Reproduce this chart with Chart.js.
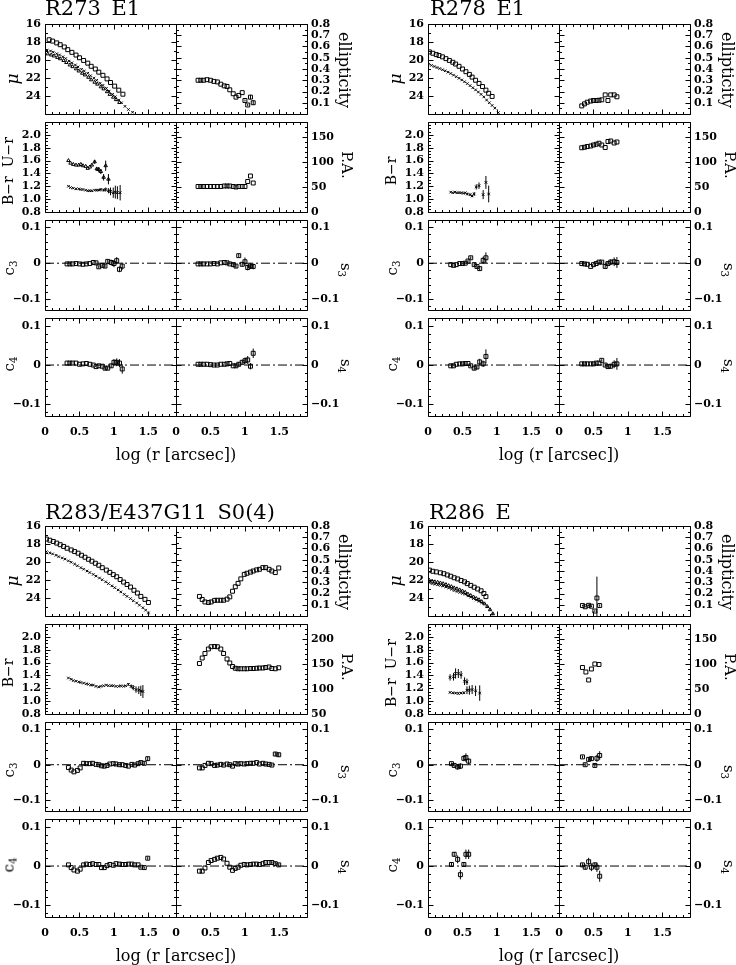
<!DOCTYPE html>
<html><head><meta charset="utf-8">
<script src="https://cdn.jsdelivr.net/npm/chart.js"></script>
<style>
html,body{margin:0;padding:0;background:#fff;}
#wrap{position:relative;width:736px;height:965px;overflow:hidden;background:#fff;font-family:"DejaVu Serif",serif;color:#000;}
#wrap canvas{position:absolute;}
.t{position:absolute;white-space:nowrap;line-height:1;color:#000;}
.sub{font-size:0.68em;position:relative;top:0.3em;}
</style></head>
<body><div id="wrap"></div>
<script>
// ---------- tick labels ----------
const X_TICKS = [0, 0.5, 1, 1.5];
const X_TICK_LABELS = ['0', '0.5', '1', '1.5'];
const MU_TICKS = [16, 18, 20, 22, 24];
const MU_LABELS = ['16', '18', '20', '22', '24'];
const ELL_TICKS = [0.1, 0.2, 0.3, 0.4, 0.5, 0.6, 0.7, 0.8];
const ELL_LABELS = ['0.1', '0.2', '0.3', '0.4', '0.5', '0.6', '0.7', '0.8'];
const COL_TICKS = [0.8, 1.0, 1.2, 1.4, 1.6, 1.8, 2.0];
const COL_LABELS = ['0.8', '1.0', '1.2', '1.4', '1.6', '1.8', '2.0'];
const PA_TICKS = [0, 50, 100, 150];
const PA_LABELS = ['0', '50', '100', '150'];
const PA2_TICKS = [50, 100, 150, 200];
const PA2_LABELS = ['50', '100', '150', '200'];
const C_TICKS = [-0.1, 0, 0.1];
const C_LABELS = ['\u22120.1', '0', '0.1'];

// ---------- R273 E1 ----------
const R273_MU_R_X = [0.06,0.11,0.17,0.22,0.28,0.33,0.39,0.45,0.50,0.56,0.62,0.67,0.73,0.78,0.84,0.90,0.95,1.01,1.07,1.13];
const R273_MU_R = [17.75,17.9,18.1,18.3,18.55,18.85,19.15,19.45,19.75,20.05,20.35,20.7,21.0,21.35,21.7,22.1,22.5,22.9,23.35,23.8];
const R273_MU_B_X = [0.03,0.08,0.12,0.17,0.21,0.26,0.30,0.35,0.39,0.44,0.48,0.53,0.57,0.62,0.66,0.71,0.75,0.80,0.84,0.89,0.93,0.98,1.02,1.07,1.11,1.16,1.21,1.27];
const R273_MU_B = [18.9,19.0,19.13,19.3,19.44,19.64,19.84,20.12,20.31,20.55,20.77,21.03,21.23,21.47,21.75,22.02,22.26,22.59,22.82,23.15,23.46,23.81,24.08,24.45,24.75,25.15,25.5,25.8];
const R273_MU_U_X = [0.04,0.09,0.13,0.18,0.22,0.27,0.31,0.36,0.40,0.45,0.49,0.54,0.58,0.63,0.67,0.72,0.76,0.81,0.85,0.90,0.94,0.99,1.03,1.08];
const R273_MU_U = [19.32,19.44,19.55,19.71,19.86,20.05,20.28,20.55,20.74,20.98,21.22,21.47,21.66,21.92,22.2,22.47,22.68,22.98,23.21,23.52,23.82,24.13,24.4,24.72];
const R273_ISO_X = [0.32,0.36,0.40,0.45,0.50,0.55,0.60,0.65,0.70,0.74,0.78,0.83,0.87,0.91,0.96,1.00,1.04,1.08,1.12];
const R273_ELL = [0.30,0.30,0.30,0.305,0.30,0.29,0.285,0.265,0.25,0.245,0.215,0.18,0.15,0.165,0.19,0.12,0.08,0.15,0.10];
const R273_ELL_ERR = [0,0,0,0,0,0,0,0,0,0,0,0,0,0,0,0.008,0.01,0.02,0.02];
const R273_PA = [51,51,51,51,51,51,51,51,52,52,52,51,50,51,51,51,61,72,58];
const R273_C3 = [-0.002,-0.002,-0.002,-0.001,-0.002,-0.003,-0.002,-0.001,0.002,0.001,-0.01,-0.006,-0.008,0.005,0.002,-0.001,0.007,-0.017,-0.008];
const R273_C3_ERR = [0,0,0,0,0,0,0,0,0,0,0.004,0.004,0.005,0.006,0.008,0.01,0.01,0.008,0.01];
const R273_S3 = [-0.002,-0.002,-0.002,-0.002,-0.002,-0.001,-0.002,0.001,0.002,0.001,-0.002,-0.004,-0.008,0.021,-0.003,0.004,-0.012,-0.008,-0.009];
const R273_S3_ERR = [0,0,0,0,0,0,0,0,0,0,0,0.004,0.005,0.005,0.006,0.012,0.008,0.008,0.008];
const R273_C4 = [0.005,0.005,0.005,0.005,0.002,0.003,0.004,0.002,0,-0.004,-0.002,-0.003,-0.008,-0.008,-0.002,0.007,0.007,0.005,-0.01];
const R273_C4_ERR = [0,0,0,0,0,0,0,0,0,0,0,0,0.004,0.004,0.005,0.008,0.01,0.01,0.012];
const R273_S4 = [0.002,0.002,0.002,0.002,0.001,0,0,0.002,0.002,0.003,0.004,-0.002,-0.002,0.002,0.007,0.011,0.013,-0.003,0.03];
const R273_S4_ERR = [0,0,0,0,0,0,0,0,0,0,0,0,0.004,0.005,0.006,0.008,0.01,0.008,0.012];
const R273_COL_X = [0.34,0.37,0.41,0.45,0.49,0.52,0.55,0.59,0.62,0.65,0.68,0.72,0.75,0.78,0.81,0.85,0.88,0.92,0.95,0.99,1.02,1.05,1.09];
const R273_UR = [1.60,1.56,1.54,1.53,1.53,1.54,1.52,1.51,1.48,1.50,1.53,1.58,1.47,1.46,1.43,1.34,1.52,1.31];
const R273_UR_ERR = [0,0,0,0,0,0,0,0,0,0,0.01,0.03,0.03,0.04,0.04,0.05,0.08,0.08];
const R273_BR = [1.20,1.18,1.17,1.16,1.16,1.15,1.15,1.14,1.13,1.13,1.13,1.14,1.14,1.14,1.15,1.14,1.15,1.13,1.12,1.10,1.11,1.10,1.10];
const R273_BR_ERR = [0,0,0,0,0,0,0,0,0,0,0,0,0.01,0.01,0.02,0.02,0.03,0.04,0.06,0.08,0.1,0.1,0.12];

// ---------- R278 E1 ----------
const R278_MU_R_X = [0.02,0.07,0.12,0.16,0.21,0.26,0.31,0.36,0.40,0.45,0.50,0.55,0.60,0.64,0.69,0.74,0.79,0.84,0.88,0.93];
const R278_MU_R = [19.1,19.25,19.4,19.5,19.65,19.85,20.05,20.25,20.45,20.7,21.0,21.3,21.6,21.9,22.25,22.6,22.95,23.35,23.7,24.05];
const R278_MU_B_X = [0.01,0.05,0.09,0.13,0.17,0.21,0.25,0.29,0.33,0.37,0.41,0.45,0.49,0.53,0.57,0.61,0.65,0.69,0.73,0.77,0.81,0.85,0.89,0.93,0.97,1.02];
const R278_MU_B = [20.46,20.6,20.72,20.84,20.95,21.08,21.2,21.35,21.5,21.68,21.85,22.03,22.22,22.42,22.62,22.85,23.08,23.32,23.56,23.82,24.1,24.45,24.75,25.05,25.35,25.85];
const R278_ISO_X = [0.33,0.37,0.41,0.46,0.50,0.54,0.58,0.62,0.67,0.71,0.75,0.80,0.84];
const R278_ELL = [0.072,0.09,0.105,0.115,0.12,0.12,0.122,0.126,0.17,0.12,0.17,0.17,0.153];
const R278_PA = [128.5,129.5,131,132,134,135.5,137.5,134,129,141,142,138,140];
const R278_C3 = [-0.004,-0.006,-0.004,-0.001,-0.001,0.0,0.006,0.015,-0.004,-0.009,-0.015,0.008,0.015];
const R278_C3_ERR = [0,0,0,0,0,0,0.003,0.004,0.004,0.005,0.006,0.01,0.015];
const R278_S3 = [-0.001,-0.002,-0.003,-0.009,-0.004,-0.001,0.003,0.003,-0.009,-0.001,0.003,0.004,0.002];
const R278_S3_ERR = [0,0,0,0,0,0,0,0.003,0.004,0.005,0.008,0.012,0.015];
const R278_C4 = [-0.002,-0.002,0.002,0.003,0.003,0.004,0.004,-0.002,-0.008,-0.005,0.008,0.003,0.022];
const R278_C4_ERR = [0,0,0,0,0,0,0,0.003,0.005,0.005,0.008,0.008,0.018];
const R278_S4 = [0.003,0.003,0.003,0.003,0.003,0.005,0.005,0.012,0.0,-0.004,-0.003,0.002,0.003];
const R278_S4_ERR = [0,0,0,0,0,0,0,0.003,0.004,0.005,0.006,0.01,0.015];
const R278_COL_X = [0.33,0.36,0.39,0.42,0.45,0.48,0.51,0.54,0.57,0.61,0.64,0.67,0.70,0.74,0.80,0.84,0.88];
const R278_BR = [1.11,1.10,1.11,1.10,1.10,1.10,1.09,1.10,1.08,1.07,1.05,1.08,1.19,1.21,1.07,1.26,1.08];
const R278_BR_ERR = [0,0,0,0,0,0,0,0.01,0.02,0.02,0.02,0.03,0.04,0.05,0.07,0.1,0.13];

// ---------- R283/E437G11 S0(4) ----------
const R283_MU_R_X = [0.02,0.07,0.12,0.17,0.22,0.27,0.32,0.38,0.43,0.48,0.53,0.58,0.63,0.68,0.73,0.78,0.83,0.89,0.94,0.99,1.04,1.09,1.14,1.19,1.24,1.29,1.34,1.39,1.45,1.50];
const R283_MU_R = [17.45,17.58,17.72,17.9,18.08,18.27,18.47,18.66,18.84,19.02,19.25,19.47,19.7,19.91,20.14,20.36,20.63,20.9,21.15,21.4,21.64,21.95,22.23,22.5,22.78,23.14,23.45,23.82,24.15,24.5];
const R283_MU_B_X = [0.02,0.07,0.11,0.16,0.20,0.25,0.29,0.34,0.38,0.43,0.47,0.52,0.56,0.61,0.65,0.70,0.74,0.79,0.83,0.88,0.92,0.97,1.01,1.06,1.10,1.15,1.19,1.24,1.28,1.33,1.37,1.42,1.46,1.50];
const R283_MU_B = [18.86,18.98,19.1,19.25,19.4,19.55,19.68,19.87,20.03,20.23,20.42,20.63,20.8,21.0,21.17,21.38,21.57,21.78,21.97,22.2,22.4,22.65,22.85,23.1,23.32,23.6,23.82,24.07,24.3,24.55,24.8,25.08,25.35,25.66];
const R283_ISO_X = [0.34,0.38,0.42,0.47,0.51,0.56,0.60,0.65,0.69,0.74,0.78,0.82,0.86,0.90,0.94,0.99,1.03,1.08,1.12,1.17,1.21,1.26,1.30,1.35,1.39,1.44,1.49];
const R283_ELL = [0.174,0.147,0.125,0.12,0.125,0.139,0.14,0.14,0.14,0.15,0.17,0.22,0.26,0.29,0.33,0.37,0.38,0.39,0.40,0.41,0.415,0.43,0.43,0.415,0.40,0.386,0.427];
const R283_PA = [151,162,171,180,184.5,185,184.5,180,171,160,152,145,141.5,140.5,140.5,140.5,140.5,141,141,141.5,142,142,143,144,141,140.5,142.5];
const R283_C3 = [-0.008,-0.015,-0.02,-0.016,-0.009,0.004,0.003,0.003,0.004,0.001,0.0,-0.003,-0.004,-0.002,0.002,0.003,0.002,0.0,0.0,-0.002,-0.004,0.001,-0.001,0.003,0.006,0.004,0.017];
const R283_C3_ERR = [0,0,0,0,0,0,0,0,0,0,0,0,0,0,0,0,0,0,0,0,0,0,0,0.004,0.004,0.005,0.006];
const R283_S3 = [-0.009,-0.009,-0.002,0.004,0.003,-0.002,-0.001,0.001,-0.001,0.002,0.0,-0.004,0.003,0.002,0.003,0.002,0.003,0.004,0.004,0.006,0.002,0.004,0.002,0.001,-0.001,0.03,0.028];
const R283_S3_ERR = [0,0,0,0,0,0,0,0,0,0,0,0,0,0,0,0,0,0,0,0,0,0,0,0,0.003,0.006,0.006];
const R283_C4 = [0.003,-0.004,-0.01,-0.013,-0.008,0.003,0.005,0.004,0.006,0.004,0.004,-0.004,-0.004,0.001,0.004,0.002,0.006,0.005,0.004,0.004,0.005,0.005,0.003,0.003,-0.003,-0.004,0.02];
const R283_C4_ERR = [0,0,0,0,0,0,0,0,0,0,0,0,0,0,0,0,0,0,0,0,0,0,0,0,0.003,0.003,0.004];
const R283_S4 = [-0.013,-0.013,-0.005,0.009,0.014,0.017,0.02,0.022,0.018,0.007,-0.003,-0.011,-0.006,-0.003,0.002,0.004,0.003,0.004,0.005,0.005,0.004,0.006,0.009,0.009,0.009,0.006,0.003];
const R283_S4_ERR = [0,0,0,0,0,0,0,0,0,0,0,0,0,0,0,0,0,0,0,0,0,0,0,0,0.003,0.005,0.004];
const R283_COL_X = [0.34,0.38,0.41,0.45,0.49,0.52,0.56,0.60,0.63,0.67,0.70,0.74,0.78,0.81,0.85,0.89,0.92,0.96,0.99,1.03,1.07,1.10,1.14,1.17,1.21,1.25,1.28,1.32,1.36,1.39,1.42];
const R283_BR = [1.36,1.34,1.32,1.31,1.30,1.29,1.28,1.27,1.26,1.25,1.25,1.23,1.22,1.23,1.24,1.25,1.24,1.24,1.24,1.23,1.23,1.24,1.23,1.24,1.26,1.23,1.21,1.18,1.17,1.16,1.15];
const R283_BR_ERR = [0,0,0,0,0,0,0,0,0,0,0,0,0,0,0,0,0,0,0,0,0,0,0,0,0.02,0.03,0.04,0.05,0.06,0.08,0.1];

// ---------- R286 E ----------
const R286_MU_R_X = [0.02,0.07,0.12,0.18,0.23,0.28,0.33,0.38,0.43,0.48,0.53,0.57,0.62,0.67,0.72,0.77,0.81,0.84];
const R286_MU_R = [20.9,21.03,21.1,21.2,21.3,21.44,21.58,21.75,21.88,22.05,22.2,22.4,22.6,22.8,23.0,23.2,23.5,23.85];
const R286_MU_B_X = [0.02,0.06,0.10,0.14,0.18,0.22,0.26,0.30,0.34,0.38,0.42,0.46,0.50,0.54,0.58,0.62,0.66,0.70,0.74,0.78,0.82,0.86,0.90,0.94];
const R286_MU_B = [22.03,22.13,22.2,22.26,22.33,22.41,22.51,22.63,22.74,22.88,22.98,23.1,23.23,23.37,23.57,23.73,23.89,24.05,24.2,24.4,24.65,24.95,25.3,25.75];
const R286_MU_B_ERR = [0,0,0,0,0,0,0,0,0,0,0,0,0,0,0,0,0,0,0,0,0.05,0.08,0.1,0.15];
const R286_MU_U_X = [0.02,0.06,0.10,0.14,0.18,0.22,0.26,0.30,0.34,0.38,0.42,0.46,0.50,0.54,0.58,0.62,0.66,0.70,0.74,0.78];
const R286_MU_U = [22.3,22.4,22.47,22.53,22.6,22.68,22.78,22.9,23.02,23.17,23.27,23.38,23.48,23.58,23.76,23.9,24.06,24.22,24.36,24.52];
const R286_ISO_X = [0.34,0.38,0.43,0.47,0.52,0.55,0.59];
const R286_ELL = [0.093,0.082,0.095,0.087,0.044,0.16,0.093];
const R286_ELL_ERR = [0.006,0.006,0.008,0.008,0.008,0.19,0.01];
const R286_PA_X = [0.34,0.39,0.43,0.47,0.52,0.58];
const R286_PA = [93,84,68,90,100,99];
const R286_C3 = [0.003,-0.002,-0.006,-0.004,0.018,0.02,0.01];
const R286_C3_ERR = [0.003,0.004,0.008,0.008,0.008,0.012,0.008];
const R286_S3 = [0.022,0.0,0.015,0.017,-0.002,0.018,0.026];
const R286_S3_ERR = [0.004,0.004,0.006,0.006,0.004,0.01,0.012];
const R286_C4 = [0.004,0.03,0.017,-0.022,0.004,0.03,0.03];
const R286_C4_ERR = [0.004,0.006,0.01,0.012,0.005,0.012,0.012];
const R286_S4 = [0.003,-0.003,0.011,-0.003,0.003,-0.003,-0.026];
const R286_S4_ERR = [0.004,0.006,0.01,0.01,0.006,0.012,0.014];
const R286_UR_X = [0.32,0.37,0.40,0.44,0.48,0.53,0.565];
const R286_UR = [1.37,1.38,1.43,1.43,1.41,1.31,1.30];
const R286_UR_ERR = [0.05,0.06,0.08,0.07,0.06,0.06,0.05];
const R286_BR_X = [0.32,0.36,0.40,0.44,0.48,0.52,0.565,0.60,0.64,0.69,0.75];
const R286_BR = [1.135,1.13,1.125,1.12,1.125,1.13,1.17,1.17,1.18,1.16,1.125];
const R286_BR_ERR = [0.01,0.01,0.01,0.015,0.015,0.02,0.06,0.07,0.07,0.08,0.12];

// ---------- rendering ----------
const FONT_FAMILY = '"DejaVu Serif", serif';
Chart.defaults.font.family = FONT_FAMILY;
Chart.defaults.color = '#000';
const TICK_FONT = {family: FONT_FAMILY, size: 11, weight: 'bold'};
const wrap = document.getElementById('wrap');

function tickLoop(min, max, minor, major, fn) {
  const n0 = Math.ceil(min / minor - 1e-6), n1 = Math.floor(max / minor + 1e-6);
  const r = Math.round(major / minor);
  for (let n = n0; n <= n1; n++) fn(n * minor, n % r === 0);
}

const framePlugin = {
  id: 'frame',
  afterDatasetsDraw(chart, args, o) {
    const {ctx, chartArea: a, scales: {x, y}} = chart;
    const l = Math.round(a.left) + 0.5, r = Math.round(a.right) + 0.5;
    const t = Math.round(a.top) + 0.5, b = Math.round(a.bottom) + 0.5;
    ctx.save();
    ctx.strokeStyle = '#000'; ctx.lineWidth = 1; ctx.setLineDash([]);
    ctx.beginPath();
    ctx.rect(l, t, r - l, b - t);
    tickLoop(o.xMin, o.xMax, o.xMinor, o.xMajor, (v, maj) => {
      const px = Math.round(x.getPixelForValue(v)) + 0.5, L = maj ? o.major : o.minor;
      ctx.moveTo(px, t); ctx.lineTo(px, t + L);
      ctx.moveTo(px, b); ctx.lineTo(px, b - L);
    });
    tickLoop(o.yMin, o.yMax, o.yMinor, o.yMajor, (v, maj) => {
      const py = Math.round(y.getPixelForValue(v)) + 0.5, L = maj ? o.major : o.minor;
      ctx.moveTo(l, py); ctx.lineTo(l + L, py);
      ctx.moveTo(r, py); ctx.lineTo(r - L, py);
    });
    ctx.stroke();
    ctx.restore();
  }
};

const errPlugin = {
  id: 'errbars',
  afterDatasetsDraw(chart) {
    const {ctx, chartArea: a, scales: {x, y}} = chart;
    ctx.save();
    ctx.beginPath(); ctx.rect(a.left, a.top, a.right - a.left, a.bottom - a.top); ctx.clip();
    ctx.beginPath();
    chart.data.datasets.forEach(ds => {
      if (!ds.errs) return;
      ds.data.forEach((p, i) => {
        const e = ds.errs[i];
        if (!e) return;
        const px = x.getPixelForValue(p.x);
        ctx.moveTo(px, y.getPixelForValue(p.y - e));
        ctx.lineTo(px, y.getPixelForValue(p.y + e));
      });
    });
    ctx.strokeStyle = '#000'; ctx.lineWidth = 1; ctx.stroke();
    ctx.restore();
  }
};

function pts(xs, ys) { return ys.map((v, i) => ({x: xs[i], y: v})); }
function sq(xs, ys, errs) {
  return {data: pts(xs, ys), errs, pointStyle: 'rect', pointRadius: 2.8, borderWidth: 1,
          borderColor: '#000', backgroundColor: 'rgba(0,0,0,0)'};
}
function cr(xs, ys, errs) {
  return {data: pts(xs, ys), errs, pointStyle: 'crossRot', pointRadius: 1.8, borderWidth: 1,
          borderColor: '#000', backgroundColor: 'rgba(0,0,0,0)'};
}
function tri(xs, ys, errs) {
  return {data: pts(xs, ys), errs, pointStyle: 'triangle', pointRadius: 2, borderWidth: 1,
          borderColor: '#000', backgroundColor: 'rgba(0,0,0,0)'};
}

const Y_MU = {min: 16, max: 26, reverse: true, ticks: MU_TICKS, labels: MU_LABELS, major: 2, minor: 1};
const Y_ELL = {min: 0, max: 0.8, ticks: ELL_TICKS, labels: ELL_LABELS, major: 0.1, minor: 0.05};
const Y_COL = {min: 0.8, max: 2.2, ticks: COL_TICKS, labels: COL_LABELS, major: 0.2, minor: 0.05};
const Y_PA = {min: 0, max: 180, ticks: PA_TICKS, labels: PA_LABELS, major: 50, minor: 10};
const Y_PA2 = {min: 50, max: 230, ticks: PA2_TICKS, labels: PA2_LABELS, major: 50, minor: 10};
const Y_C = {min: -0.13, max: 0.12, ticks: C_TICKS, labels: C_LABELS, major: 0.1, minor: 0.02};

function panel(x0, y0, w, h, side, bottom, yc, datasets, zero) {
  const mL = side === 'left' ? 50 : 8, mR = side === 'right' ? 50 : 8, mT = 8, mB = bottom ? 30 : 8;
  const W = w + mL + mR, H = h + mT + mB;
  const cv = document.createElement('canvas');
  cv.width = W; cv.height = H;
  cv.style.left = (x0 - mL) + 'px'; cv.style.top = (y0 - mT) + 'px';
  cv.style.width = W + 'px'; cv.style.height = H + 'px';
  wrap.appendChild(cv);
  const ds = datasets.slice();
  if (zero) ds.unshift({type: 'line', data: [{x: 0, y: 0}, {x: 1.9, y: 0}], borderColor: '#000',
    borderWidth: 1, borderDash: [9, 3, 2, 3], pointRadius: 0, fill: false});
  new Chart(cv, {
    type: 'scatter',
    data: {datasets: ds},
    options: {
      responsive: false, animation: false, devicePixelRatio: 1, events: [],
      layout: {autoPadding: false, padding: {left: side === 'left' ? 0 : mL, right: side === 'right' ? 0 : mR, top: mT, bottom: bottom ? 0 : mB}},
      plugins: {
        legend: {display: false}, tooltip: {enabled: false},
        frame: {xMin: 0, xMax: 1.9, xMajor: 0.5, xMinor: 0.1, yMin: yc.min, yMax: yc.max,
                yMajor: yc.major, yMinor: yc.minor, major: 5, minor: 2.5}
      },
      scales: {
        x: {type: 'linear', min: 0, max: 1.9, display: bottom,
            grid: {display: false, drawTicks: false}, border: {display: false},
            ticks: {autoSkip: false, maxRotation: 0, padding: 10, font: TICK_FONT, color: '#000',
                    callback: (v, i) => X_TICK_LABELS[i]},
            afterBuildTicks: a => { a.ticks = X_TICKS.map(v => ({value: v})); },
            afterFit: a => { a.height = mB; a.paddingLeft = 0; a.paddingRight = 0; }},
        y: {type: 'linear', position: side, min: yc.min, max: yc.max, reverse: !!yc.reverse,
            grid: {display: false, drawTicks: false}, border: {display: false},
            ticks: {autoSkip: false, padding: 4, font: TICK_FONT, color: '#000',
                    callback: (v, i) => yc.labels[i]},
            afterBuildTicks: a => { a.ticks = yc.ticks.map(v => ({value: v})); },
            afterFit: a => { a.width = side === 'left' ? mL : mR; a.paddingTop = 0; a.paddingBottom = 0; }}
      }
    },
    plugins: [errPlugin, framePlugin]
  });
}

function label(html, x, y, size, rot, extra) {
  const d = document.createElement('div');
  d.className = 't'; d.innerHTML = html;
  d.style.left = x + 'px'; d.style.top = y + 'px'; d.style.fontSize = size + 'px';
  d.style.transform = 'translate(-50%,-50%) rotate(' + rot + 'deg)';
  if (extra) Object.assign(d.style, extra);
  wrap.appendChild(d);
}
function title(text, x, baseline) {
  const d = document.createElement('div');
  d.className = 't'; d.textContent = text;
  d.style.left = x + 'px'; d.style.top = (baseline - 17.8) + 'px'; d.style.fontSize = '21px';
  wrap.appendChild(d);
}

function galaxy(g) {
  const [L, M, R] = g.cols, rw = g.rows;
  const rowsSpec = [
    [Y_MU, g.mu, Y_ELL, g.ell, false],
    [Y_COL, g.col, g.paAxis, g.pa, false],
    [Y_C, g.c3, Y_C, g.s3, true],
    [Y_C, g.c4, Y_C, g.s4, true]
  ];
  rowsSpec.forEach((s, i) => {
    const bottom = i === 3, h = rw[i + 1] - rw[i];
    panel(L, rw[i], M - L, h, 'left', bottom, s[0], s[1], s[4]);
    panel(M, rw[i], R - M, h, 'right', bottom, s[2], s[3], s[4]);
  });
  title(g.title, g.titleX, g.titleBase);
  label('\u03bc', L - 33, rw[0] + 55, 17, -90, {fontStyle: 'italic'});
  label(g.colLabel, L - 37, rw[1] + 49, 14, -90);
  label('c<span class="sub">3</span>', L - 36, rw[2] + 48, 15, -90);
  label('c<span class="sub">4</span>', L - 36, rw[3] + 46, 15, -90);
  label('ellipticity', R + 37, rw[0] + 46, 16, 90);
  label('P.A.', R + 39, rw[1] + 43, 15, 90);
  label('s<span class="sub">3</span>', R + 38, rw[2] + 50, 15, 90);
  label('s<span class="sub">4</span>', R + 38, rw[3] + 48, 15, 90);
  label('log (r [arcsec])', M, rw[4] + 39, 16, 0);
}

const TOP_ROWS = [24, 122, 220, 318, 416];
const BOT_ROWS = [526, 624, 722, 819, 917];
const LEFT_COLS = [45, 176, 307];
const RIGHT_COLS = [428, 559, 690];

galaxy({
  title: 'R273\u2002E1', titleX: 45, titleBase: 16, cols: LEFT_COLS, rows: TOP_ROWS,
  colLabel: 'B\u2212r&nbsp;&nbsp;U\u2212r', paAxis: Y_PA,
  mu: [sq(R273_MU_R_X, R273_MU_R), cr(R273_MU_B_X, R273_MU_B), tri(R273_MU_U_X, R273_MU_U)],
  ell: [sq(R273_ISO_X, R273_ELL, R273_ELL_ERR)],
  col: [tri(R273_COL_X, R273_UR, R273_UR_ERR), cr(R273_COL_X, R273_BR, R273_BR_ERR)],
  pa: [sq(R273_ISO_X, R273_PA)],
  c3: [sq(R273_ISO_X, R273_C3, R273_C3_ERR)], s3: [sq(R273_ISO_X, R273_S3, R273_S3_ERR)],
  c4: [sq(R273_ISO_X, R273_C4, R273_C4_ERR)], s4: [sq(R273_ISO_X, R273_S4, R273_S4_ERR)]
});
galaxy({
  title: 'R278\u2002E1', titleX: 430, titleBase: 16, cols: RIGHT_COLS, rows: TOP_ROWS,
  colLabel: 'B\u2212r', paAxis: Y_PA,
  mu: [sq(R278_MU_R_X, R278_MU_R), cr(R278_MU_B_X, R278_MU_B)],
  ell: [sq(R278_ISO_X, R278_ELL)],
  col: [cr(R278_COL_X, R278_BR, R278_BR_ERR)],
  pa: [sq(R278_ISO_X, R278_PA)],
  c3: [sq(R278_ISO_X, R278_C3, R278_C3_ERR)], s3: [sq(R278_ISO_X, R278_S3, R278_S3_ERR)],
  c4: [sq(R278_ISO_X, R278_C4, R278_C4_ERR)], s4: [sq(R278_ISO_X, R278_S4, R278_S4_ERR)]
});
galaxy({
  title: 'R283/E437G11\u2002S0(4)', titleX: 45, titleBase: 520, cols: LEFT_COLS, rows: BOT_ROWS,
  colLabel: 'B\u2212r', paAxis: Y_PA2,
  mu: [sq(R283_MU_R_X, R283_MU_R), cr(R283_MU_B_X, R283_MU_B)],
  ell: [sq(R283_ISO_X, R283_ELL)],
  col: [cr(R283_COL_X, R283_BR, R283_BR_ERR)],
  pa: [sq(R283_ISO_X, R283_PA)],
  c3: [sq(R283_ISO_X, R283_C3, R283_C3_ERR)], s3: [sq(R283_ISO_X, R283_S3, R283_S3_ERR)],
  c4: [sq(R283_ISO_X, R283_C4, R283_C4_ERR)], s4: [sq(R283_ISO_X, R283_S4, R283_S4_ERR)]
});
galaxy({
  title: 'R286\u2002E', titleX: 429, titleBase: 520, cols: RIGHT_COLS, rows: BOT_ROWS,
  colLabel: 'B\u2212r&nbsp;&nbsp;U\u2212r', paAxis: Y_PA,
  mu: [sq(R286_MU_R_X, R286_MU_R), tri(R286_MU_B_X, R286_MU_B, R286_MU_B_ERR), cr(R286_MU_U_X, R286_MU_U)],
  ell: [sq(R286_ISO_X, R286_ELL, R286_ELL_ERR)],
  col: [cr(R286_UR_X, R286_UR, R286_UR_ERR), cr(R286_BR_X, R286_BR, R286_BR_ERR)],
  pa: [sq(R286_PA_X, R286_PA)],
  c3: [sq(R286_ISO_X, R286_C3, R286_C3_ERR)], s3: [sq(R286_ISO_X, R286_S3, R286_S3_ERR)],
  c4: [sq(R286_ISO_X, R286_C4, R286_C4_ERR)], s4: [sq(R286_ISO_X, R286_S4, R286_S4_ERR)]
});
</script>
</body></html>
